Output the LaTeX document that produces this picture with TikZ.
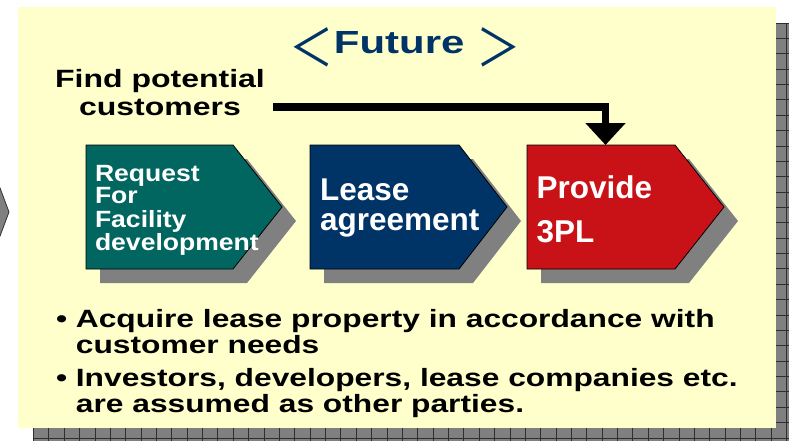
\documentclass[tikz,border=0pt]{standalone}
\usepackage{fontspec}
\usepackage{graphicx}
\setmainfont{Liberation Sans}
\newfontfamily\cjkfont{Noto Sans CJK JP}
\usetikzlibrary{arrows.meta}

\definecolor{paper}{HTML}{FFFFCC}
\definecolor{shadowgray}{HTML}{808080}
\definecolor{gridln}{HTML}{2E2E2E}
\definecolor{tealbox}{HTML}{00665F}
\definecolor{navybox}{HTML}{003366}
\definecolor{redbox}{HTML}{C81218}
\definecolor{titleblue}{HTML}{003366}

% horizontal stretch of a piece of text
\newcommand\wide[2]{\scalebox{#1}[1]{#2}}
% font size in pt with explicit leading
\newcommand\sz[2]{\fontsize{#1}{#2}\selectfont}
% fullwidth angle bracket of the title
\newcommand\bracketglyph[1]{\raisebox{-13pt}{\wide{0.87}{\cjkfont\mdseries\sz{51}{51}#1}}}
% one chevron: {x left}{x notch}{x tip}{fill colour}, with its grey drop shadow
\newcommand\chevron[4]{%
  \fill[shadowgray, shift={(14,-14)}] (#1,-145) -- (#2,-145) -- (#3,-207) -- (#2,-269) -- (#1,-269) -- cycle;
  \filldraw[fill=#4, chevline] (#1,-145) -- (#2,-145) -- (#3,-207) -- (#2,-269) -- (#1,-269) -- cycle;
}

\begin{document}
\begin{tikzpicture}[x=1pt, y=1pt,
  chevline/.style={draw=black, line width=0.8pt},
  txt/.style={inner sep=0pt, outer sep=0pt, font=\bfseries},
  feedline/.style={line width=7.5pt, -{Triangle[width=39pt, length=22pt]}}
]
\useasboundingbox (0,0) rectangle (789,-440);
\clip (0,0) rectangle (789,-440);
\fill[white] (0,0) rectangle (789,-440);

% gridded drop shadow behind the panel
\fill[shadowgray] (33.5,-23) rectangle (800,-450);
\begin{scope}[shift={(33.5,-23)}]
  \draw[gridln, line width=0.9pt, step=15.37] (0,-430) grid (770,0);
\end{scope}

% tip of the preceding grey arrow at the left edge
\filldraw[fill=shadowgray, draw=gridln, line width=0.8pt] (-3,-180) -- (9,-212) -- (-3,-244);

% panel
\fill[paper] (18,-7) rectangle (776,-428);

% title
\node[txt, anchor=base, text=titleblue] (title) at (405,-53)
  {\bracketglyph{＜}\wide{1.31}{\sz{32}{32}\bfseries Future }\bracketglyph{＞}};

% process chevrons
\chevron{86}{233}{282}{tealbox}
\chevron{310}{459}{507}{navybox}
\chevron{527}{675}{724}{redbox}

\node[txt, anchor=base west, text=white] (req) at (95,-181)
  {\wide{1.13}{\sz{23.5}{21.7}\begin{tabular}[t]{@{}l@{}}Request\\For\\Facility\\development\end{tabular}}};
\node[txt, anchor=base west, text=white] (lease) at (320,-200)
  {\sz{31.5}{30}\begin{tabular}[t]{@{}l@{}}Lease\\agreement\end{tabular}};
\node[txt, anchor=base west, text=white] (prov) at (536.5,-198)
  {\sz{31.5}{44}\begin{tabular}[t]{@{}l@{}}Provide\\3PL\end{tabular}};

% customer search feeding into 3PL
\node[txt, anchor=base, text=black] (find) at (160,-87)
  {\wide{1.28}{\sz{25}{28}\begin{tabular}[t]{@{}c@{}}Find potential\\customers\end{tabular}}};
\coordinate (feed) at (273,-107);
\coordinate (drop) at (605.5,-145);
\draw[feedline] (feed) -| (drop);

% notes
\node[txt, anchor=base west, text=black] (notes) at (56,-327)
  {\wide{1.27}{\sz{25}{26}\begin{tabular}[t]{@{}l@{}l@{}}
    \makebox[15.7pt][l]{•} & Acquire lease property in accordance with\\
     & customer needs\\[7pt]
    \makebox[15.7pt][l]{•} & Investors, developers, lease companies etc.\\
     & are assumed as other parties.
  \end{tabular}}};
\end{tikzpicture}
\end{document}
